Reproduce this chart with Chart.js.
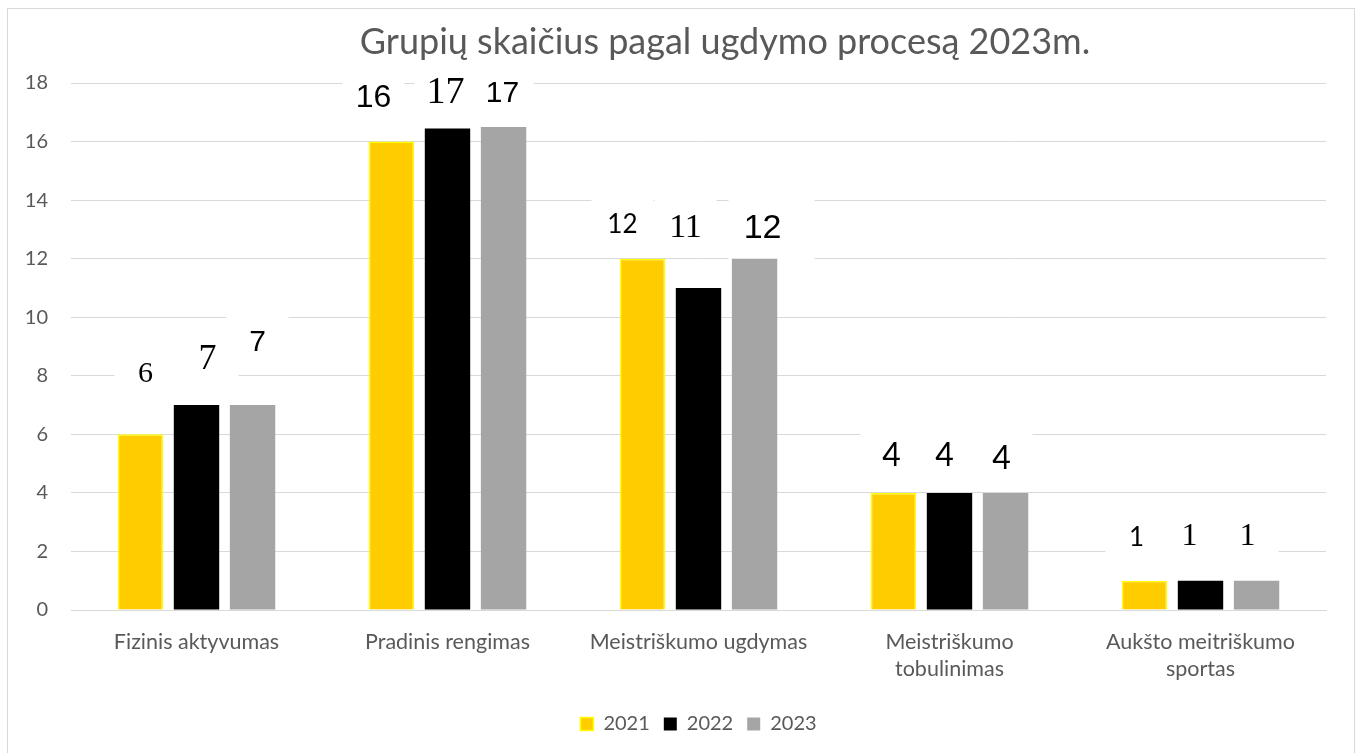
<!DOCTYPE html>
<html>
<head>
<meta charset="utf-8">
<script src="https://cdn.jsdelivr.net/npm/chart.js@4.4.0/dist/chart.umd.min.js"></script>
<style>
  body { margin: 0; background: #fff; }
  canvas { display: block; }
</style>
</head>
<body>
<canvas id="myChart" width="1361" height="753"></canvas>
<script>
const categories = [
  "Fizinis aktyvumas",
  "Pradinis rengimas",
  "Meistriškumo ugdymas",
  ["Meistriškumo", "tobulinimas"],
  ["Aukšto meitriškumo", "sportas"],
];
const years = ["2021", "2022", "2023"];

// bar heights as drawn
const values2021 = [6, 16, 12, 4, 1];
const values2022 = [7, 16.45, 11, 4, 1];
const values2023 = [7, 16.5, 12, 4, 1];

// data label texts as printed on the chart
const labels2021 = ["6", "16", "12", "4", "1"];
const labels2022 = ["7", "17", "11", "4", "1"];
const labels2023 = ["7", "17", "12", "4", "1"];

const yTicks = [0, 2, 4, 6, 8, 10, 12, 14, 16, 18];

// label styling (the original mixes fonts)
const SERIF = "'Liberation Serif', 'Times New Roman', serif";
const ARIAL = "'Liberation Sans', Arial, sans-serif";
const CALI = "Lato, 'Open Sans', sans-serif";
const labelFonts = [
  [["30px", SERIF], ["32px", ARIAL], ["26px", CALI], ["32px", CALI], ["26px", CALI]],
  [["36px", SERIF], ["38px", SERIF], ["34px", SERIF], ["32px", CALI], ["32px", SERIF]],
  [["30px", ARIAL], ["30px", ARIAL], ["34px", ARIAL], ["32px", CALI], ["32px", SERIF]],
];
// label offsets from the bar's top centre
const labelDx = [
  [5, -18, -20, -2, -8],
  [11, -2, -13, -5, -11],
  [5, -1, 8, -4, -9],
];
const labelDy = [
  [-60, -43, -34, -37, -43],
  [-46, -35, -60, -37, -44],
  [-62, -33, -30, -34, -44],
];

const textColor = "#595959";
const gridColor = "#d9d9d9";
const uiFont = "Lato, 'Open Sans', sans-serif";

const frameAndTitle = {
  id: "frameAndTitle",
  beforeDraw(chart) {
    const ctx = chart.ctx;
    ctx.save();
    ctx.fillStyle = "#fff";
    ctx.fillRect(0, 0, chart.width, chart.height);
    ctx.strokeStyle = gridColor;
    ctx.lineWidth = 1;
    ctx.strokeRect(7.5, 8.5, 1347, 752);
    ctx.fillStyle = textColor;
    ctx.font = "36px " + uiFont;
    ctx.textAlign = "center";
    ctx.textBaseline = "middle";
    ctx.fillText("Grupių skaičius pagal ugdymo procesą 2023m.", 725, 42);
    ctx.restore();
  },
};

const boxedLabels = {
  id: "boxedLabels",
  beforeDatasetsDraw(chart) {
    const ctx = chart.ctx;
    const texts = [labels2021, labels2022, labels2023];
    const spots = [];
    chart.data.datasets.forEach((ds, i) => {
      chart.getDatasetMeta(i).data.forEach((bar, j) => {
        spots.push({ i, j, x: bar.x + labelDx[i][j], y: bar.y + labelDy[i][j] });
      });
    });
    ctx.save();
    ctx.fillStyle = "#fff";
    spots.forEach((s) => {
      if (s.i === 2 && s.j === 2) {
        ctx.fillRect(s.x - 34, s.y - 32, 86, 66);
      } else {
        ctx.fillRect(s.x - 31, s.y - 28, 62, 56);
      }
    });
    ctx.fillStyle = "#000";
    ctx.textAlign = "center";
    ctx.textBaseline = "middle";
    spots.forEach((s) => {
      const f = labelFonts[s.i][s.j];
      ctx.font = f[0] + " " + f[1];
      ctx.fillText(texts[s.i][s.j], s.x, s.y);
    });
    ctx.restore();
  },
};

new Chart(document.getElementById("myChart").getContext("2d"), {
  type: "bar",
  data: {
    labels: categories,
    datasets: [
      {
        label: years[0],
        data: values2021,
        backgroundColor: "#FFCC00",
        borderColor: "#FFFF00",
        borderWidth: 1.5,
      },
      {
        label: years[1],
        data: values2022,
        backgroundColor: "#000000",
        borderColor: "#000000",
        borderWidth: 0,
      },
      {
        label: years[2],
        data: values2023,
        backgroundColor: "#A5A5A5",
        borderColor: "#A5A5A5",
        borderWidth: 0,
      },
    ],
  },
  options: {
    responsive: false,
    animation: false,
    categoryPercentage: 0.67,
    barPercentage: 0.81,
    layout: { padding: { top: 83, right: 35, bottom: 9, left: 0 } },
    plugins: {
      title: { display: false },
      tooltip: { enabled: false },
      legend: {
        position: "bottom",
        fullSize: false,
        labels: {
          color: textColor,
          font: { family: uiFont, size: 20 },
          boxWidth: 13,
          boxHeight: 13,
          padding: 14,
        },
      },
    },
    scales: {
      x: {
        grid: { display: false, drawTicks: false },
        border: { display: true, color: gridColor },
        ticks: {
          color: textColor,
          padding: 18,
          maxRotation: 0,
          font: { family: uiFont, size: 21.5, lineHeight: 1.27 },
        },
        afterFit(scale) { scale.height = 90; },
      },
      y: {
        min: 0,
        max: 18,
        afterBuildTicks(scale) { scale.ticks = yTicks.map((v) => ({ value: v })); },
        grid: { color: gridColor, drawTicks: false },
        border: { display: false },
        ticks: {
          color: textColor,
          padding: 23,
          font: { family: uiFont, size: 20 },
        },
        afterFit(scale) { scale.width = 71; },
      },
    },
  },
  plugins: [frameAndTitle, boxedLabels],
});
</script>
</body>
</html>
